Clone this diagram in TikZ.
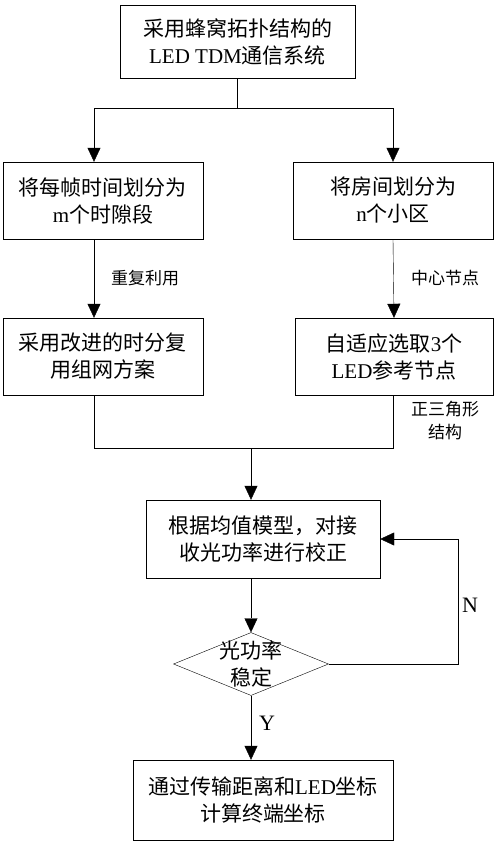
\documentclass[tikz,border=0pt]{standalone}
\usepackage{fontspec}
\setmainfont{Liberation Serif}
\newfontfamily\cjk{Noto Sans CJK SC}
\newcommand{\lat}[1]{{\rmfamily #1}}
\usetikzlibrary{arrows.meta, shapes.geometric}
\tikzset{
	line width = 1.2pt,
	>={Triangle[length=14pt, width=13pt]},
	font = \cjk\fontsize{21}{27}\selectfont,
	box/.style={
		draw,
		align=center,
		inner sep=0pt
	},
	decision/.style={
		draw,
		diamond,
		inner sep=0pt,
		minimum width=155pt,
		minimum height=63pt
	},
	tag/.style={
		font=\cjk\fontsize{17}{23}\selectfont,
		align=center
	},
	yesno/.style={
		font=\rmfamily\fontsize{22}{26}\selectfont
	}
}
\begin{document}
\begin{tikzpicture}[x=1pt, y=-1pt]
		\useasboundingbox (0,0) rectangle (500,844);

		\node[box, minimum width=235pt, minimum height=73pt] (sys) at (237.5,41.5) {采用蜂窝拓扑结构的\\\lat{LED TDM}通信系统};
		\node[box, minimum width=200pt, minimum height=77pt] (slot) at (103,200.5) {将每帧时间划分为\\\lat{m}个时隙段};
		\node[box, minimum width=200pt, minimum height=77pt] (cell) at (393,200.5) {将房间划分为\\\lat{n}个小区};
		\node[box, minimum width=200pt, minimum height=77pt] (reuse) at (103,356.5) {采用改进的时分复\\用组网方案};
		\node[box, minimum width=198pt, minimum height=77pt] (ref) at (394,356.5) {自适应选取\lat{3}个\\\lat{LED}参考节点};
		\node[box, minimum width=234pt, minimum height=78pt] (calib) at (263,539) {根据均值模型，对接\\收光功率进行校正};
		\node[decision] (chk) at (251,664) {};
		\node[align=center] (chktext) at (chk.center) {光功率\\稳定};
		\node[box, minimum width=260pt, minimum height=80pt] (calc) at (263,800) {通过传输距离和\lat{LED}坐标\\计算终端坐标};

		\node[tag] (reuselbl) at (145,278) {重复利用};
		\node[tag] (centerlbl) at (445,278) {中心节点};
		\node[tag] (trilbl) at (445,421) {正三角形\\结构};
		\node[yesno] (nlbl) at (470,605) {N};
		\node[yesno] (ylbl) at (267,723) {Y};

		\coordinate (split) at (237,108);
		\coordinate (merge) at (251,448);
		\coordinate (back) at (458,664);

		\draw (sys.south -| split) -- (split);
		\draw[->] (split) -| ([xshift=-9pt]slot.north);
		\draw[->] (split) -| (cell.north);
		\draw[->] ([xshift=-9pt]slot.south) -- ([xshift=-9pt]reuse.north);
		\draw[->] (cell.south) -- (ref.south |- ref.north);
		\draw ([xshift=-9pt]reuse.south) |- (merge);
		\draw ([xshift=-1pt]ref.south) |- (merge);
		\draw[->] (merge) -- (merge |- calib.north);
		\draw[->] (calib.south -| chk) -- (chk.north);
		\draw[->] (chk.south) -- (chk.south |- calc.north);
		\draw[->] (chk.east) -- (back) |- (calib.east);
	\end{tikzpicture}
\end{document}
